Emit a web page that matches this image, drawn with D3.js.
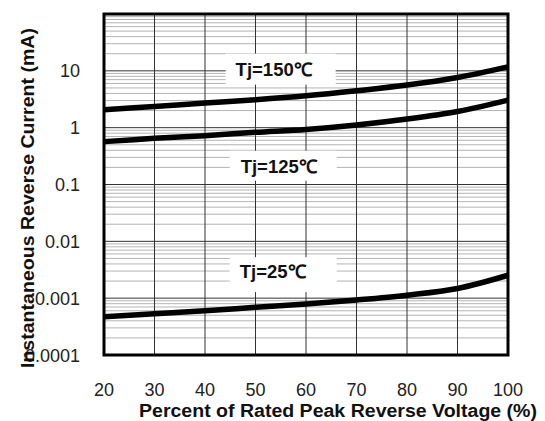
<!DOCTYPE html>
<html>
<head>
<meta charset="utf-8">
<script src="https://cdn.jsdelivr.net/npm/d3@7"></script>
<style>
  body { margin: 0; background: #fff; }
  text { font-family: "Liberation Sans", Arial, sans-serif; }
</style>
</head>
<body>
<script>
// data
var voltage = [20, 30, 40, 50, 60, 70, 80, 90, 100];
var tj150 = [2.07, 2.36, 2.71, 3.1, 3.64, 4.46, 5.61, 7.63, 11.75];
var tj125 = [0.568, 0.649, 0.724, 0.828, 0.93, 1.115, 1.42, 1.93, 3.06];
var tj25 = [0.00047, 0.00053, 0.0006, 0.00069, 0.00079, 0.00093, 0.00113, 0.00148, 0.00253];
var yTicks = [0.0001, 0.001, 0.01, 0.1, 1, 10];
var yTickLabels = ["0.0001", "0.001", "0.01", "0.1", "1", "10"];
var curveLabels = ["Tj=150\u2103", "Tj=125\u2103", "Tj=25\u2103"];
var labelVolt = [53.6, 54.6, 53.4];
var labelCurrent = [8.23, 0.161, 0.00225];

var margin = {top: 14, left: 104},
    width = 508 - margin.left,
    height = 355 - margin.top;

var svg = d3.select("body")
  .append("svg")
    .attr("width", 545)
    .attr("height", 421);

var g = svg.append("g")
    .attr("transform", "translate(" + margin.left + "," + margin.top + ")");

var x = d3.scaleLinear().domain([20, 100]).range([0, width]);
var y = d3.scaleLog().domain([0.0001, 100]).range([height, 0]);

// minor horizontal grid (2..9 in each decade)
var minor = [];
for (var e = -4; e < 2; e++) {
  for (var k = 2; k <= 9; k++) minor.push(k * Math.pow(10, e));
}
g.selectAll(".minor")
  .data(minor)
  .enter().append("line")
    .attr("x1", 0).attr("x2", width)
    .attr("y1", function(d) { return y(d); })
    .attr("y2", function(d) { return y(d); })
    .style("stroke", "#a0a0a0")
    .style("stroke-width", 0.8);

// decade lines
g.selectAll(".major")
  .data(yTicks)
  .enter().append("line")
    .attr("x1", 0).attr("x2", width)
    .attr("y1", function(d) { return y(d); })
    .attr("y2", function(d) { return y(d); })
    .style("stroke", "#333")
    .style("stroke-width", 1);

// vertical grid
g.selectAll(".vgrid")
  .data(voltage)
  .enter().append("line")
    .attr("x1", function(d) { return x(d); })
    .attr("x2", function(d) { return x(d); })
    .attr("y1", 0).attr("y2", height)
    .style("stroke", "#333")
    .style("stroke-width", 1);

// curve labels on white boxes that hide the grid
var boxLeft = [-48, -49, -43], boxW = [110, 107, 107];
var boxTop = [-22, -22, -21], boxH = [31, 30, 35];
var lab = g.selectAll(".lab")
  .data(curveLabels)
  .enter().append("g");
lab.append("rect")
    .attr("x", function(d, i) { return x(labelVolt[i]) + boxLeft[i]; })
    .attr("y", function(d, i) { return y(labelCurrent[i]) + boxTop[i]; })
    .attr("width", function(d, i) { return boxW[i]; })
    .attr("height", function(d, i) { return boxH[i]; })
    .style("fill", "#fff");
lab.append("text")
    .attr("x", function(d, i) { return x(labelVolt[i]); })
    .attr("y", function(d, i) { return y(labelCurrent[i]); })
    .attr("text-anchor", "middle")
    .style("font-size", "18.5px")
    .style("font-weight", "bold")
    .style("fill", "#111")
    .text(function(d) { return d; });

// curves
var line = d3.line()
  .x(function(d, i) { return x(voltage[i]); })
  .y(function(d) { return y(d); })
  .curve(d3.curveCatmullRom);

g.selectAll(".curve")
  .data([tj150, tj125, tj25])
  .enter().append("path")
    .attr("d", line)
    .style("fill", "none")
    .style("stroke", "#000")
    .style("stroke-width", 5.5);

// frame
g.append("rect")
    .attr("width", width).attr("height", height)
    .style("fill", "none")
    .style("stroke", "#000")
    .style("stroke-width", 3);

// tick labels
g.selectAll(".ytick")
  .data(yTicks)
  .enter().append("text")
    .attr("x", -24)
    .attr("y", function(d) { return y(d) + 6.5; })
    .attr("text-anchor", "end")
    .style("font-size", "18px")
    .style("fill", "#222")
    .text(function(d, i) { return yTickLabels[i]; });

g.selectAll(".xtick")
  .data(voltage)
  .enter().append("text")
    .attr("x", function(d) { return x(d); })
    .attr("y", height + 41)
    .attr("text-anchor", "middle")
    .style("font-size", "18px")
    .style("fill", "#222")
    .text(function(d) { return d; });

// axis titles
svg.append("text")
    .attr("x", 139)
    .attr("y", 417)
    .attr("textLength", 398)
    .attr("lengthAdjust", "spacingAndGlyphs")
    .style("font-size", "18px")
    .style("font-weight", "bold")
    .style("fill", "#111")
    .text("Percent of Rated Peak Reverse Voltage (%)");

svg.append("text")
    .attr("transform", "translate(34,368) rotate(-90)")
    .attr("textLength", 340)
    .attr("lengthAdjust", "spacingAndGlyphs")
    .style("font-size", "17.5px")
    .style("font-weight", "bold")
    .style("fill", "#111")
    .text("Instantaneous Reverse Current (mA)");
</script>
</body>
</html>
